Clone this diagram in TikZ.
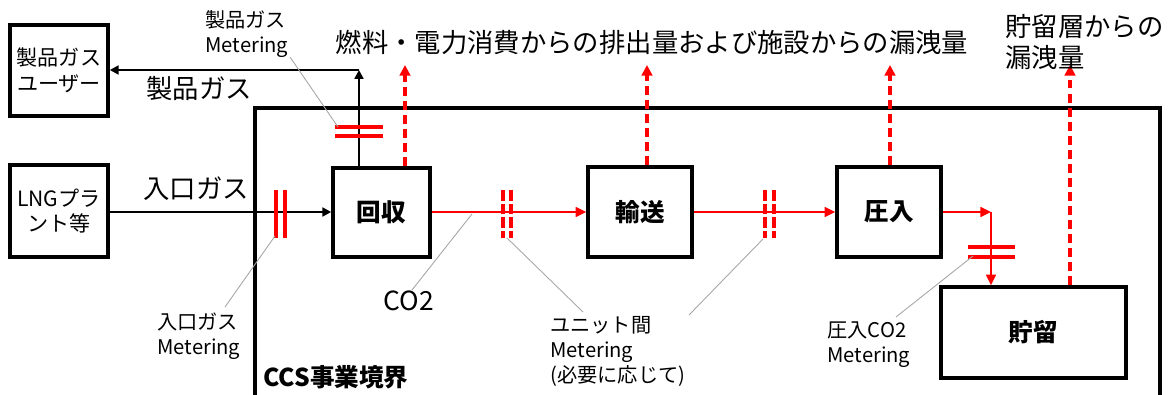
\documentclass[tikz,border=0pt]{standalone}
\usepackage{fontspec}
\setmainfont{Noto Sans CJK JP}
\usetikzlibrary{arrows.meta}
\begin{document}
\begin{tikzpicture}[x=0.02cm,y=-0.02cm,
 box/.style={draw,line width=2pt,inner sep=0pt},
 blk/.style={line width=1.3pt,-{Triangle[length=5pt,width=5pt]}},
 redl/.style={red,line width=1.4pt,-{Triangle[length=6pt,width=5.5pt]}},
 reddash/.style={red,line width=1.8pt,dash pattern=on 5pt off 3pt,-{Triangle[length=6pt,width=6pt]}},
 meter/.style={red,line width=2.1pt},
 meterd/.style={red,line width=2.1pt,dash pattern=on 6pt off 1.7pt},
 lead/.style={gray!70,line width=0.5pt},
 big/.style={font=\fontsize{15}{18}\selectfont,inner sep=0pt},
 small/.style={font=\fontsize{11.5}{14.2}\selectfont,align=left,inner sep=0pt},
 boxtxt/.style={font=\fontsize{12}{14.5}\selectfont,align=center},
 bold/.style={font=\fontsize{14}{17}\selectfont\bfseries}]
\useasboundingbox (0,0) rectangle (1173,395);
% CCS boundary
\draw[line width=2pt] (255,108) rectangle (1160,405);
\node[bold,anchor=west,inner sep=0pt] (ccs) at (263,377) {CCS事業境界};
% boxes
\node[box,boxtxt,minimum width=1.96cm,minimum height=1.82cm] (user) at (59,70.5) {製品ガス\\ユーザー};
\node[box,boxtxt,minimum width=1.96cm,minimum height=1.84cm] (lng) at (59,211) {LNGプラ\\ント等};
\node[box,bold,minimum width=1.94cm,minimum height=1.78cm] (kaishu) at (381.5,212.5) {回収};
\node[box,bold,minimum width=2.08cm,minimum height=1.80cm] (yuso) at (640,212) {輸送};
\node[box,bold,minimum width=2.08cm,minimum height=1.80cm] (atsu) at (889,212) {圧入};
\node[box,bold,minimum width=3.70cm,minimum height=1.82cm] (choryu) at (1033.5,332.5) {貯留};
% inlet gas
\draw[blk] (lng.east |- 0,212) -- (kaishu.west |- 0,212);
\node[big] (inlbl) at (196,189) {入口ガス};
\draw[meter] (276,190) -- (276,238);
\draw[meter] (285,190) -- (285,238);
% product gas
\coordinate (pg) at (359,70);
\draw[blk] (pg |- kaishu.north) -- (pg);
\draw[blk] (pg) -- (user.east |- pg);
\node[big] (pglbl) at (199,89) {製品ガス};
\draw[meter] (335,127) -- (383,127);
\draw[meter] (335,136) -- (383,136);
% CO2 flow
\draw[redl] (kaishu.east |- 0,212) -- (yuso.west |- 0,212);
\draw[redl] (yuso.east |- 0,212) -- (atsu.west |- 0,212);
\coordinate (corner) at (991,212);
\draw[redl] (atsu.east |- corner) -- (corner);
\draw[redl] (corner) -- (corner |- choryu.north);
\draw[meterd] (503,190) -- (503,238);
\draw[meterd] (511,190) -- (511,238);
\draw[meterd] (765,190) -- (765,238);
\draw[meterd] (774,190) -- (774,238);
\draw[meter] (968,247) -- (1015,247);
\draw[meter] (968,257) -- (1015,257);
% emissions
\coordinate (e1) at (405,65);
\coordinate (e2) at (647,65);
\coordinate (e3) at (890,65);
\coordinate (e4) at (1070,65);
\draw[reddash] (e1 |- kaishu.north) -- (e1);
\draw[reddash] (e2 |- yuso.north) -- (e2);
\draw[reddash] (e3 |- atsu.north) -- (e3);
\draw[reddash] (e4 |- choryu.north) -- (e4);
\node[big] (emis) at (652,42) {燃料・電力消費からの排出量および施設からの漏洩量};
\node[big,align=left,anchor=west,font=\fontsize{15}{17.6}\selectfont] (leak) at (1005,42) {貯留層からの\\漏洩量};
% labels with leaders
\node[small,anchor=west] (pgm) at (205,34) {製品ガス\\Metering};
\draw[lead] (290,57) -- (338,127);
\node[small,anchor=west] (inm) at (157,336) {入口ガス\\Metering};
\draw[lead] (225,307) -- (275,236);
\node[big,font=\fontsize{15}{18}\selectfont] (co2) at (409,301) {CO2};
\draw[lead] (412,290) -- (472,214);
\node[small,anchor=west] (unit) at (550,351) {ユニット間\\Metering\\(必要に応じて)};
\draw[lead] (583,312) -- (507,238);
\draw[lead] (689,315) -- (763,239);
\node[small,anchor=west] (injm) at (827,345) {圧入CO2\\Metering};
\draw[lead] (896,317) -- (973,256);
\end{tikzpicture}
\end{document}
